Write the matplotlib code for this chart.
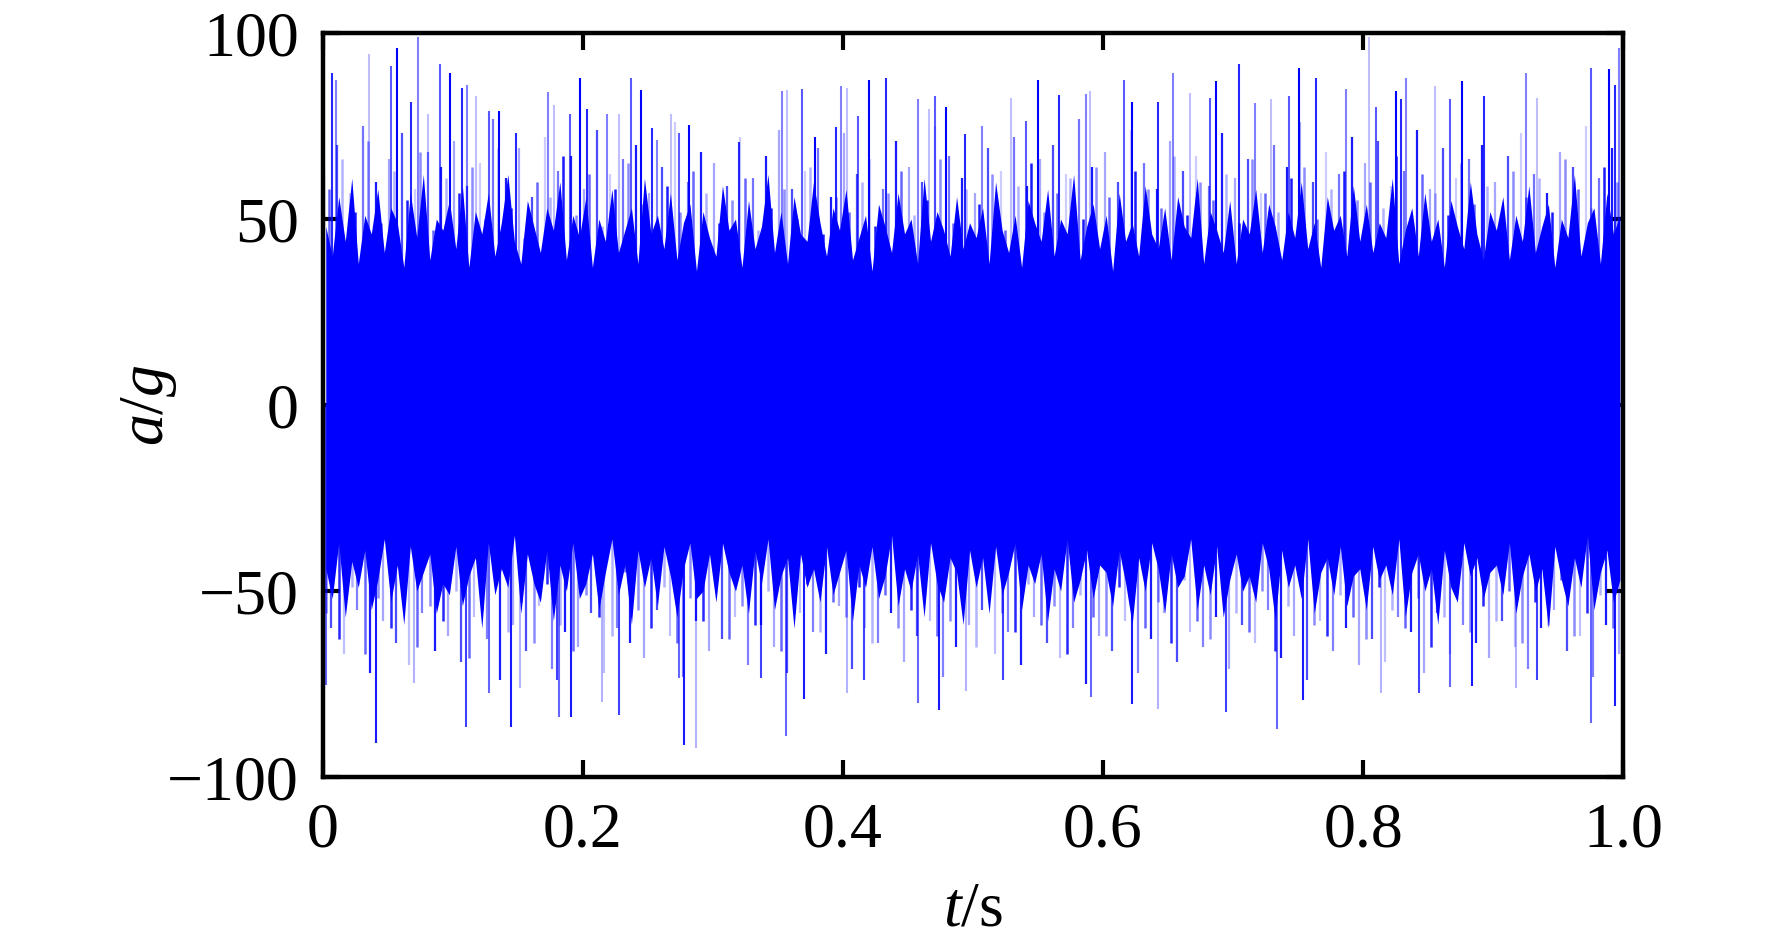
import matplotlib.pyplot as plt
import numpy as np

plt.rcParams['font.family'] = ['Liberation Serif', 'DejaVu Serif']
plt.rcParams['mathtext.fontset'] = 'custom'
plt.rcParams['mathtext.rm'] = 'Liberation Serif'
plt.rcParams['mathtext.it'] = 'Liberation Serif:italic'

# ragged edge of the dense band, one value per 0.005 s
edge_top = [48, 40, 56, 44, 61, 38, 51, 46, 58, 41, 53, 49, 37, 57, 45, 62, 39, 50, 47, 55,
            42, 59, 37, 52, 46, 57, 40, 49, 62, 44, 38, 55, 48, 41, 53, 47, 60, 39, 51, 45,
            56, 37, 50, 44, 58, 41, 47, 53, 38, 61, 46, 51, 42, 57, 39, 49, 54, 36, 52, 45,
            40, 59, 47, 50, 37, 55, 42, 48, 62, 41, 52, 38, 56, 46, 44, 60, 49, 40, 53, 47,
            58, 39, 45, 51, 36, 54, 48, 41, 57, 46, 50, 38, 61, 44, 52, 47, 40, 56, 42, 49,
            45, 53, 38, 60, 47, 41, 51, 37, 55, 49, 44, 58, 40, 50, 46, 62, 39, 48, 54, 42,
            51, 36, 57, 44, 49, 40, 59, 46, 42, 53, 39, 56, 48, 45, 61, 38, 52, 47, 41, 55,
            38, 50, 46, 58, 41, 54, 48, 39, 52, 45, 60, 42, 49, 37, 56, 47, 51, 40, 59, 44,
            54, 41, 49, 45, 61, 38, 47, 53, 40, 57, 44, 50, 37, 55, 48, 42, 60, 46, 39, 52,
            47, 56, 39, 51, 44, 59, 41, 48, 54, 37, 50, 45, 62, 40, 49, 53, 38, 57, 46, 51]
edge_bot = [-44, -52, -37, -57, -42, -49, -39, -55, -47, -36, -53, -43, -59, -38, -50, -45, -40, -56, -48, -51,
            -38, -54, -46, -41, -60, -37, -51, -44, -49, -35, -56, -40, -48, -53, -39, -58, -43, -50, -37, -52,
            -48, -40, -55, -45, -36, -51, -43, -59, -39, -49, -41, -54, -38, -46, -57, -44, -37, -52, -50, -40,
            -53, -37, -45, -50, -43, -56, -39, -48, -36, -55, -46, -41, -60, -40, -49, -44, -53, -38, -51, -45,
            -39, -58, -43, -49, -38, -52, -46, -35, -54, -44, -50, -40, -57, -37, -48, -53, -41, -45, -59, -39,
            -49, -41, -56, -38, -51, -45, -37, -55, -43, -48, -40, -58, -44, -50, -36, -53, -47, -39, -52, -43,
            -45, -54, -39, -48, -59, -41, -50, -37, -44, -56, -40, -49, -46, -36, -55, -43, -51, -38, -57, -47,
            -40, -50, -46, -53, -37, -44, -58, -39, -49, -43, -52, -36, -56, -45, -41, -51, -38, -54, -46, -44,
            -55, -38, -47, -43, -51, -36, -57, -45, -40, -50, -44, -59, -39, -49, -53, -37, -46, -41, -52, -45,
            -43, -51, -37, -56, -46, -40, -50, -44, -60, -38, -47, -54, -41, -49, -35, -55, -45, -39, -53, -47]

# medium spikes, one per 0.01 s
mid_top = [58, 66, 52, 71, 49, 63, 55, 68, 47, 61,
           57, 64, 50, 69, 53, 45, 60, 56, 67, 51,
           62, 48, 58, 65, 54, 46, 59, 52, 63, 57,
           49, 55, 61, 47, 53, 58, 50, 64, 46, 56,
           52, 60, 48, 57, 63, 51, 55, 66, 49, 58,
           54, 62, 47, 59, 65, 52, 57, 61, 50, 64,
           56, 48, 63, 58, 53, 67, 51, 60, 55, 62,
           49, 66, 57, 52, 61, 64, 50, 58, 63, 55,
           60, 53, 67, 49, 62, 57, 51, 65, 54, 59,
           48, 63, 56, 61, 52, 66, 58, 53, 64, 60]
mid_bot = [-56, -63, -49, -67, -52, -60, -47, -65, -54, -58,
           -50, -68, -55, -46, -61, -53, -64, -48, -59, -66,
           -51, -57, -62, -45, -55, -60, -49, -64, -52, -58,
           -47, -63, -54, -59, -50, -66, -56, -48, -61, -53,
           -57, -49, -64, -51, -60, -55, -47, -62, -58, -52,
           -65, -50, -56, -61, -48, -59, -54, -67, -51, -57,
           -62, -49, -55, -60, -53, -64, -47, -58, -63, -52,
           -56, -61, -50, -66, -54, -48, -59, -62, -51, -57,
           -63, -49, -55, -60, -52, -65, -57, -48, -61, -54,
           -58, -50, -64, -53, -59, -47, -62, -56, -51, -60]
high_top = [62, 70, 57, 75, 60, 66, 73, 58, 68, 64,
            71, 59, 65, 77, 61, 69, 56, 72, 63, 67,
            58, 74, 62, 66, 70, 57, 64, 76, 60, 68,
            65, 59, 72, 61, 67, 74, 58, 63, 69, 56,
            73, 62, 66, 58, 71, 64, 60, 75, 67, 61,
            57, 69, 63, 72, 59, 66, 70, 62, 77, 64,
            68, 60, 74, 65, 58, 71, 63, 67, 59, 73,
            61, 66, 57, 70, 64, 76, 60, 68, 62, 72,
            65, 71, 59, 63, 74, 58, 69, 61, 66, 70,
            60, 67, 73, 62, 57, 68, 64, 75, 61, 69]
high_bot = [-60, -67, -55, -72, -58, -64, -70, -56, -66, -62,
            -69, -57, -63, -74, -59, -66, -54, -71, -61, -65,
            -56, -72, -60, -64, -68, -55, -62, -73, -58, -66,
            -63, -57, -70, -59, -65, -72, -56, -61, -67, -54,
            -71, -60, -64, -56, -69, -62, -58, -73, -65, -59,
            -55, -67, -61, -70, -57, -64, -68, -60, -75, -62,
            -66, -58, -72, -63, -56, -69, -61, -65, -57, -71,
            -59, -64, -55, -68, -62, -74, -58, -66, -60, -70,
            -63, -69, -57, -61, -72, -56, -67, -59, -64, -68,
            -58, -65, -71, -60, -55, -66, -62, -73, -59, -67]

# tallest peaks
peak_top_t = [0.0072, 0.0105, 0.036, 0.053, 0.057, 0.068, 0.0733, 0.081, 0.090, 0.098,
              0.107, 0.111, 0.118, 0.128, 0.136, 0.149, 0.173, 0.178, 0.190, 0.198,
              0.203, 0.219, 0.228, 0.237, 0.245,
              0.253, 0.257, 0.268, 0.274, 0.282, 0.320, 0.353, 0.357, 0.369, 0.379,
              0.395, 0.399, 0.403, 0.412, 0.420, 0.433, 0.458, 0.466, 0.471, 0.479, 0.494,
              0.507, 0.529, 0.541, 0.550, 0.566, 0.587, 0.590, 0.616, 0.622, 0.642,
              0.654, 0.667, 0.682, 0.687, 0.705, 0.717, 0.729, 0.743,
              0.751, 0.764, 0.787, 0.8046, 0.810, 0.825, 0.829, 0.833, 0.855, 0.867,
              0.876, 0.893, 0.925, 0.934, 0.975, 0.989, 0.994, 0.997]
peak_top_v = [89.2, 87.5, 94.3, 91.1, 95.9, 81.5, 98.8, 78.2, 91.7, 89.2,
              85.1, 86.0, 83.1, 79.1, 79.0, 73.0, 84.2, 80.6, 78.2, 88.0,
              79.5, 78.2, 78.2, 87.8, 84.8,
              74.4, 71.2, 78.1, 73.0, 75.4, 70.6, 84.4, 84.7, 85.0, 72.0,
              74.6, 85.7, 85.1, 77.7, 87.5, 87.8, 82.3, 79.5, 83.1, 80.0, 72.8,
              75.0, 82.4, 76.3, 87.5, 83.3, 83.6, 84.5, 87.4, 81.5, 81.5,
              89.2, 84.0, 82.6, 87.2, 91.6, 81.3, 82.2, 83.1,
              90.5, 88.0, 84.9, 98.8, 80.0, 84.5, 82.2, 88.0, 85.8, 82.2,
              87.2, 83.0, 89.2, 82.4, 90.5, 90.3, 86.0, 95.9]
peak_bot_t = [0.0025, 0.041, 0.070, 0.110, 0.128, 0.145, 0.152, 0.180, 0.182, 0.191,
              0.215, 0.228, 0.274, 0.278, 0.287, 0.337, 0.356, 0.370, 0.403, 0.416,
              0.458, 0.474, 0.495, 0.523, 0.591, 0.622, 0.642, 0.695, 0.734, 0.754,
              0.814, 0.843, 0.867, 0.884, 0.918, 0.934, 0.975, 0.994]
peak_bot_v = [-75.3, -90.9, -74.8, -86.5, -77.3, -86.5, -76.2, -73.9, -83.8, -83.8,
              -79.7, -83.3, -73.5, -91.4, -92.3, -73.5, -89.1, -78.9, -77.3, -73.9,
              -80.2, -82.0, -76.8, -73.9, -78.4, -80.4, -81.6, -82.5, -87.2, -79.3,
              -77.5, -77.3, -75.9, -75.5, -76.1, -73.9, -85.4, -80.9]


def blue_shades(n, alphas):
    cols = np.zeros((n, 4))
    cols[:, 2] = 1.0
    cols[:, 3] = [alphas[i % len(alphas)] for i in range(n)]
    return cols


fig = plt.figure(figsize=(17.72, 9.43), dpi=100)
ax = fig.add_axes([0.182, 0.176, 0.734, 0.789])

# dense band: the envelope drawn as a jagged polygon
t_edge = 0.0025 + np.arange(len(edge_top)) * 0.005
ax.fill_between(t_edge, edge_bot, edge_top, color='blue', lw=0, zorder=2)

t_mid = 0.005 + np.arange(len(mid_top)) * 0.01
ax.vlines(t_mid, 0, mid_top, colors=blue_shades(len(t_mid), [0.6, 0.3, 0.9, 0.45]), lw=1.8, zorder=3)
ax.vlines(t_mid - 0.0025, mid_bot, 0, colors=blue_shades(len(t_mid), [0.45, 0.85, 0.3, 0.6]),
          lw=1.8, zorder=3)

t_high = 0.0013 + np.arange(len(high_top)) * 0.01
ax.vlines(t_high, 0, high_top, colors=blue_shades(len(t_high), [0.35, 0.7, 0.2, 0.55, 0.9]),
          lw=1.6, zorder=3)
ax.vlines(t_high + 0.0055, high_bot, 0, colors=blue_shades(len(t_high), [0.7, 0.25, 0.5, 0.9, 0.35]),
          lw=1.6, zorder=3)

ax.vlines(peak_top_t, 0, peak_top_v, colors=blue_shades(len(peak_top_t), [0.85, 0.5, 0.25, 0.65, 1.0]),
          lw=1.5, zorder=4)
ax.vlines(peak_bot_t, peak_bot_v, 0, colors=blue_shades(len(peak_bot_t), [0.6, 0.9, 0.3, 0.75]),
          lw=1.5, zorder=4)

ax.set_xlim(0, 1.0)
ax.set_ylim(-100, 100)
ax.set_xticks([0, 0.2, 0.4, 0.6, 0.8, 1.0])
ax.set_xticklabels(['0', '0.2', '0.4', '0.6', '0.8', '1.0'])
ax.set_yticks([-100, -50, 0, 50, 100])
ax.set_yticklabels(['\u2212100', '\u221250', '0', '50', '100'])

ax.tick_params(direction='in', top=True, right=True, length=12, width=3,
               labelsize=46, zorder=6)
ax.tick_params(axis='x', pad=18)
ax.tick_params(axis='y', pad=17)
for s in ax.spines.values():
    s.set_linewidth(3.2)
    s.set_zorder(6)

ax.set_xlabel('$t$/s', fontsize=46)
ax.set_ylabel('$a$/$g$', fontsize=46)
ax.xaxis.set_label_coords(0.5, -0.14)
ax.yaxis.set_label_coords(-0.110, 0.5)

fig.savefig('out.png', dpi=100)
